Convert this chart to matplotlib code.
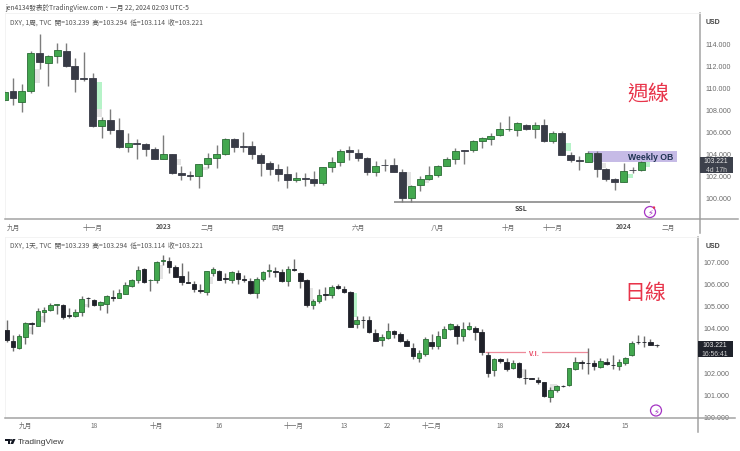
import matplotlib
matplotlib.use("Agg")
import matplotlib.pyplot as plt
from matplotlib.patches import Rectangle, Circle, Polygon

plt.rcParams['font.family'] = ['Noto Sans CJK TC', 'DejaVu Sans']

# weekly candles
w_open = [108.85, 109.61, 108.61, 109.67, 113.06, 112.21, 112.79, 113.27, 111.91, 110.82,
          110.82, 106.45, 106.97, 106.06, 104.52, 104.91, 104.82, 104.33, 103.48, 103.91,
          102.15, 101.97, 101.94, 103.0, 103.58, 103.88, 105.27, 104.64, 104.64, 103.85,
          103.12, 102.58, 102.09, 101.58, 101.73, 101.67, 101.27, 102.7, 103.2, 104.24,
          104.03, 103.55, 102.3, 102.9, 102.9, 102.27, 99.94, 101.06, 101.67, 102.0,
          102.82, 103.42, 104.27, 104.27, 105.06, 105.3, 105.6, 106.15, 106.12, 106.58,
          106.18, 106.58, 105.09, 105.82, 103.82, 103.39, 103.18, 103.97, 102.58, 101.67,
          101.36, 102.45, 102.42]
w_close = [109.58, 109.0, 109.67, 113.09, 112.24, 112.79, 113.36, 111.91, 110.7, 110.73,
           106.45, 106.97, 106.09, 104.52, 104.91, 104.82, 104.33, 103.48, 103.91, 102.18,
           102.03, 101.94, 102.97, 103.58, 103.88, 105.27, 104.55, 104.55, 103.88, 103.12,
           102.58, 102.06, 101.58, 101.73, 101.67, 101.27, 102.7, 103.18, 104.2, 104.06,
           103.55, 102.3, 102.82, 102.88, 102.27, 99.94, 101.03, 101.67, 101.97, 102.82,
           103.42, 104.15, 104.21, 105.06, 105.33, 105.58, 106.18, 106.18, 106.7, 106.18,
           106.58, 105.06, 105.79, 103.82, 103.39, 103.24, 103.97, 102.58, 101.67, 101.4,
           102.4, 102.42, 103.2]
w_high = [109.7, 110.82, 110.27, 113.27, 114.85, 112.91, 114.0, 114.0, 112.61, 113.18,
          111.27, 107.3, 107.97, 107.21, 105.79, 105.27, 104.91, 104.52, 105.64, 103.94,
          102.85, 102.39, 103.03, 104.0, 104.73, 105.33, 105.36, 105.94, 105.09, 104.0,
          103.3, 103.03, 102.79, 102.24, 102.15, 102.4, 102.7, 103.6, 104.4, 104.67,
          104.36, 103.6, 103.24, 103.5, 103.58, 102.55, 101.09, 101.88, 102.79, 102.88,
          103.67, 104.42, 104.3, 105.18, 105.42, 105.82, 106.85, 107.33, 106.79, 106.64,
          106.85, 107.09, 105.97, 105.97, 104.06, 103.76, 104.21, 104.21, 102.6, 101.73,
          103.1, 102.76, 103.3]
w_low = [108.7, 108.39, 107.73, 109.42, 111.64, 110.12, 112.21, 111.79, 109.58, 110.52,
         106.33, 105.39, 105.73, 104.45, 104.12, 103.45, 103.76, 103.42, 103.45, 102.06,
         101.55, 101.55, 100.82, 102.6, 102.6, 103.82, 104.12, 104.06, 103.45, 101.94,
         102.03, 101.42, 100.82, 101.4, 101.03, 101.03, 101.06, 102.24, 102.79, 103.4,
         103.27, 102.03, 101.91, 102.33, 102.27, 99.58, 99.58, 100.58, 101.58, 101.82,
         102.79, 102.97, 102.97, 104.06, 104.45, 104.72, 105.55, 106.0, 105.55, 106.09,
         105.4, 104.97, 104.91, 103.82, 103.2, 102.49, 103.15, 101.79, 101.5, 100.64,
         101.33, 102.15, 102.36]

# daily candles
d_open = [103.89, 103.42, 103.09, 103.61, 104.24, 104.11, 104.74, 104.83, 105.06, 105.05,
          104.57, 104.56, 104.73, 105.36, 105.29, 105.06, 105.1, 105.42, 105.36, 105.55,
          105.92, 106.2, 106.68, 106.18, 106.17, 107.03, 107.05, 106.76, 106.35, 106.08,
          106.0, 105.74, 105.62, 106.5, 106.58, 106.26, 106.2, 106.52, 106.23, 106.14,
          105.61, 106.23, 106.58, 106.58, 106.56, 106.15, 106.67, 106.48, 106.18, 105.06,
          105.24, 105.53, 105.51, 105.91, 105.79, 105.64, 104.2, 104.38, 104.38, 103.79,
          103.45, 103.53, 103.85, 103.74, 103.39, 103.11, 102.64, 102.82, 103.35, 103.18,
          103.56, 103.95, 104.09, 103.62, 103.96, 104.02, 103.8, 102.77, 102.09, 102.58,
          102.45, 102.17, 102.39, 101.74, 101.71, 101.65, 101.55, 100.85, 101.2, 101.38,
          101.39, 102.14, 102.44, 102.41, 102.41, 102.21, 102.45, 102.32, 102.29, 102.43,
          102.76, 103.38, 103.38, 103.35, 103.239]
d_close = [103.47, 103.15, 103.62, 104.24, 104.17, 104.77, 104.83, 105.03, 105.07, 104.52,
           104.56, 104.74, 105.32, 105.35, 105.06, 105.18, 105.44, 105.38, 105.58, 105.95,
           106.17, 106.64, 106.11, 106.2, 107.02, 107.07, 106.76, 106.33, 106.08, 106.06,
           105.77, 105.7, 106.58, 106.67, 106.2, 106.23, 106.55, 106.23, 106.18, 105.58,
           106.21, 106.53, 106.62, 106.56, 106.14, 106.7, 106.65, 106.15, 105.06, 105.24,
           105.48, 105.51, 105.88, 105.8, 105.65, 104.06, 104.38, 104.35, 103.8, 103.42,
           103.59, 103.86, 103.74, 103.39, 103.18, 102.73, 102.85, 103.5, 103.18, 103.64,
           103.94, 104.17, 103.62, 103.97, 104.08, 103.8, 102.89, 101.94, 102.58, 102.52,
           102.12, 102.39, 101.79, 101.71, 101.7, 101.56, 100.92, 101.2, 101.36, 101.37,
           102.2, 102.44, 102.43, 102.4, 102.27, 102.51, 102.36, 102.31, 102.44, 102.65,
           103.32, 103.37, 103.37, 103.24, 103.221]
d_high = [104.36, 103.68, 103.73, 104.27, 104.29, 104.91, 104.94, 105.15, 105.09, 105.09,
          104.91, 104.85, 105.44, 105.42, 105.32, 105.24, 105.5, 105.73, 105.77, 106.08,
          106.23, 106.8, 106.71, 106.21, 107.03, 107.33, 107.21, 106.88, 106.95, 106.59,
          106.15, 106.0, 106.59, 106.76, 106.64, 106.48, 106.61, 106.65, 106.39, 106.27,
          106.3, 106.58, 106.91, 106.79, 106.68, 106.83, 107.12, 106.53, 106.21, 105.3,
          105.77, 105.86, 105.95, 106.0, 105.92, 105.7, 104.54, 104.54, 104.54, 103.95,
          103.73, 104.21, 103.91, 103.82, 103.5, 103.3, 103.0, 103.58, 103.73, 103.85,
          104.09, 104.23, 104.18, 104.26, 104.26, 104.11, 103.95, 102.89, 102.64, 102.64,
          102.62, 102.54, 102.45, 102.14, 101.72, 101.79, 101.55, 101.33, 101.39, 101.4,
          102.2, 102.7, 102.55, 103.08, 102.55, 102.64, 102.64, 102.76, 102.58, 102.7,
          103.39, 103.68, 103.64, 103.52, 103.294]
d_low = [103.35, 102.94, 103.05, 103.27, 103.73, 104.08, 104.26, 104.79, 104.64, 104.41,
         104.45, 104.52, 104.56, 104.97, 105.02, 104.82, 104.67, 105.24, 105.35, 105.53,
         105.85, 106.05, 106.03, 105.67, 106.06, 106.88, 106.52, 106.3, 105.97, 106.05,
         105.64, 105.58, 105.5, 106.38, 106.18, 106.03, 106.03, 106.0, 106.08, 105.55,
         105.36, 106.15, 106.33, 106.33, 106.08, 105.91, 106.6, 105.82, 104.94, 104.85,
         105.12, 105.27, 105.36, 105.77, 105.58, 104.03, 104.0, 104.0, 103.79, 103.39,
         103.2, 103.48, 103.53, 103.35, 103.17, 102.6, 102.45, 102.74, 103.03, 103.05,
         103.53, 103.89, 103.27, 103.42, 103.91, 103.47, 102.79, 101.79, 101.83, 102.39,
         102.06, 102.14, 101.73, 101.44, 101.68, 101.45, 100.85, 100.62, 101.08, 101.3,
         101.36, 102.09, 102.15, 101.91, 102.09, 102.18, 102.33, 102.15, 102.11, 102.32,
         102.73, 103.27, 103.15, 103.21, 103.114]

# pale gaps: candle index, top, bottom
w_gray = [(3, 111.64, 110.33), (10, 108.0, 107.3), (19, 103.45, 102.9), (22, 102.7, 102.45),
          (45, 102.24, 101.03), (47, 101.64, 101.24), (67, 103.09, 102.6)]
w_green = [(10, 110.48, 108.0), (63, 104.88, 104.2), (70, 102.06, 101.7), (72, 103.2, 102.73)]
d_gray = [(3, 104.03, 103.73), (5, 104.56, 104.26), (12, 105.09, 104.94), (24, 106.88, 106.23),
          (32, 106.3, 106.0), (48, 105.82, 105.24), (82, 102.14, 101.76), (87, 101.45, 101.2)]
d_green = [(55, 105.61, 104.52)]

w_ticks = [1, 10, 18, 23, 31, 40, 49, 57, 62, 70, 75]
w_ticklabels = ['九月', '十一月', '2023', '二月', '四月', '六月', '八月', '十月', '十一月', '2024', '二月']
d_ticks = [3, 14, 24, 34, 46, 54, 61, 68, 79, 89, 99]
d_ticklabels = ['九月', '18', '十月', '16', '十一月', '13', '22', '十二月', '18', '2024', '15']
w_prices = [100, 102, 104, 106, 108, 110, 112, 114]
# 103.000 sits under the last price tag, so it is left out
d_prices = [100, 101, 102, 104, 105, 106, 107]
bold_labels = ['2023', '2024']

W, H = 740, 452
GREEN = '#43a84f'
GREEN_EDGE = '#2a6b35'
GRAY_FVG = '#e4e4e4'
GREEN_FVG = '#b6f3c8'
AXIS = '#a3a3a3'


def panel(left, top, right, bottom):
    return fig.add_axes([left / W, 1 - bottom / H, (right - left) / W, (bottom - top) / H])


def candles(ax, o, h, l, c, dark, wick, width):
    xs = range(len(o))
    ax.vlines(xs, l, h, color=wick, lw=1.0, zorder=3)
    for x, a, b in zip(xs, o, c):
        up = b >= a
        ax.bar(x, abs(b - a), width, bottom=min(a, b), color=GREEN if up else dark,
               edgecolor=GREEN_EDGE if up else dark, lw=0.6, zorder=4)


def gaps(ax, items, color):
    for i, top, bottom in items:
        ax.add_patch(Rectangle((i, bottom), 1, top - bottom, fc=color, ec='none', zorder=1))


def style(ax, ticks, labels, prices, pad):
    ax.set_xticks(ticks)
    ax.set_xticklabels(labels)
    ax.yaxis.tick_right()
    ax.set_yticks(prices)
    ax.set_yticklabels(['%.3f' % p for p in prices])
    ax.tick_params(axis='both', length=0, colors='#6b6b6b', labelsize=5.1)
    ax.tick_params(axis='y', pad=pad)
    ax.tick_params(axis='x', pad=2.5, labelsize=4.8)
    for s in ['top', 'left']:
        ax.spines[s].set_color('#f1f1f1')
        ax.spines[s].set_linewidth(0.6)
    for s in ['bottom', 'right']:
        ax.spines[s].set_color(AXIS)
        ax.spines[s].set_linewidth(1.1)
    for t in ax.get_xticklabels():
        if t.get_text() in bold_labels:
            t.set_fontweight('bold')
            t.set_color('#555555')
    for t in ax.get_yticklabels():
        t.set_family(['Liberation Sans', 'DejaVu Sans'])


fig = plt.figure(figsize=(7.4, 4.52), dpi=100)

# top panel, weekly
ax1 = panel(5, 14, 699.5, 220)
ax1.set_xlim((5 - 4.15) / 8.85, (699.5 - 4.15) / 8.85)
ax1.set_ylim(98.0, 116.73)
gaps(ax1, w_gray, GRAY_FVG)
gaps(ax1, w_green, GREEN_FVG)
ax1.add_patch(Rectangle((66, 103.15), 10, 1.0, fc='#c6bbe6', ec='none', zorder=2))
candles(ax1, w_open, w_high, w_low, w_close, '#383b46', '#7d7d7d', 0.78)
ax1.hlines(99.58, 44, 73, color='#8a8a8a', lw=1.2, zorder=2)
ax1.text(58.4, 99.05, 'SSL', fontsize=5, fontweight='bold', color='#444444', ha='center', va='center')
ax1.text(73.1, 103.65, 'Weekly OB', fontsize=6.2, fontweight='bold', color='#1f3352', ha='center', va='center',
         zorder=5, family=['Liberation Sans'])
style(ax1, w_ticks, w_ticklabels, w_prices, 4)

# bottom panel, daily
ax2 = panel(5, 238, 697.7, 418.7)
ax2.set_xlim((5 - 6.5) / 6.25, (697.7 - 6.5) / 6.25)
ax2.set_ylim(99.923, 108.136)
gaps(ax2, d_gray, GRAY_FVG)
gaps(ax2, d_green, GREEN_FVG)
candles(ax2, d_open, d_high, d_low, d_close, '#1f2129', '#6e6e6e', 0.72)
ax2.hlines(102.89, 76.5, 93, color='#ee8a9a', lw=0.9, zorder=2)
ax2.text(84.4, 102.89, 'V.I.', fontsize=5, fontweight='bold', color='#e8506a', ha='center', va='center',
         bbox=dict(fc='white', ec='none', pad=1.5), zorder=2.5)
style(ax2, d_ticks, d_ticklabels, d_prices, 4)

# screen furniture in pixel coordinates
ov = fig.add_axes([0, 0, 1, 1], facecolor='none')
ov.set_xlim(0, W)
ov.set_ylim(H, 0)
ov.axis('off')

ov.text(5, 8, 'jen4134發表於TradingView.com・一月 22, 2024 02:03 UTC-5', fontsize=4.8, color='#4d4d4d', va='center')
legend = 'DXY, %s, TVC  開=103.239  高=103.294  低=103.114  收=103.221'
ov.text(10, 22.5, legend % '1周', fontsize=4.85, color='#555555', va='center')
ov.text(10, 245.5, legend % '1天', fontsize=4.85, color='#555555', va='center')

ov.text(648.5, 94, '週線', fontsize=15, fontweight='medium', color='#e8344a', ha='center', va='center')
ov.text(645, 293, '日線', fontsize=15, fontweight='medium', color='#e8344a', ha='center', va='center')

# axis lines that run past the plot area
ov.plot([699.5, 738], [220, 220], color=AXIS, lw=1.1)
ov.plot([699.5, 699.5], [220, 234], color=AXIS, lw=1.1)
ov.plot([697.7, 735], [418.7, 418.7], color=AXIS, lw=1.1)
ov.plot([697.7, 697.7], [418.7, 433], color=AXIS, lw=1.1)
ov.text(713, 23, 'USD', fontsize=5, fontweight='bold', color='#444444', ha='center', va='center', family=['Liberation Sans'])
ov.text(713, 246.5, 'USD', fontsize=5, fontweight='bold', color='#444444', ha='center', va='center', family=['Liberation Sans'])

# last price tags
ov.add_patch(Rectangle((700, 158), 32.5, 16, fc='#3c404b', ec='none'))
ov.text(716, 161.8, '103.221', fontsize=4.9, color='#e8e8e8', ha='center', va='center', family=['Liberation Sans'])
ov.text(716, 170.2, '4d 17h', fontsize=4.9, color='#d0d0d0', ha='center', va='center', family=['Liberation Sans'])
ov.add_patch(Rectangle((698, 342), 34.5, 16, fc='#1f222b', ec='none'))
ov.text(715, 345.8, '103.221', fontsize=4.9, color='#e8e8e8', ha='center', va='center', family=['Liberation Sans'])
ov.text(715, 354.2, '16:56:41', fontsize=4.9, color='#d0d0d0', ha='center', va='center', family=['Liberation Sans'])

# lightning markers
for cx, cy in [(650, 213), (656, 411.5)]:
    ov.add_patch(Circle((cx, cy), 5.5, fc='white', ec='#a534c4', lw=0.9, zorder=6))
    ov.text(cx, cy, '\u26a1', fontsize=6, color='#a534c4', ha='center', va='center', family=['DejaVu Sans'], zorder=7)
ov.add_patch(Circle((654, 208.5), 1.2, fc='#e8344a', ec='none', zorder=8))

# TradingView logo
ov.add_patch(Rectangle((5.3, 440), 4.5, 1.8, fc='#131722', ec='none'))
ov.add_patch(Rectangle((7.5, 440), 2.3, 5, fc='#131722', ec='none'))
ov.add_patch(Circle((11, 441), 1, fc='#131722', ec='none'))
ov.add_patch(Polygon([(12.7, 440), (15.5, 440), (13.2, 445), (10.4, 445)], fc='#131722', ec='none'))
ov.text(18, 442.7, 'TradingView', fontsize=6, color='#3a3a3a', va='center', family=['Liberation Sans'])

fig.savefig('out.png', dpi=100)
